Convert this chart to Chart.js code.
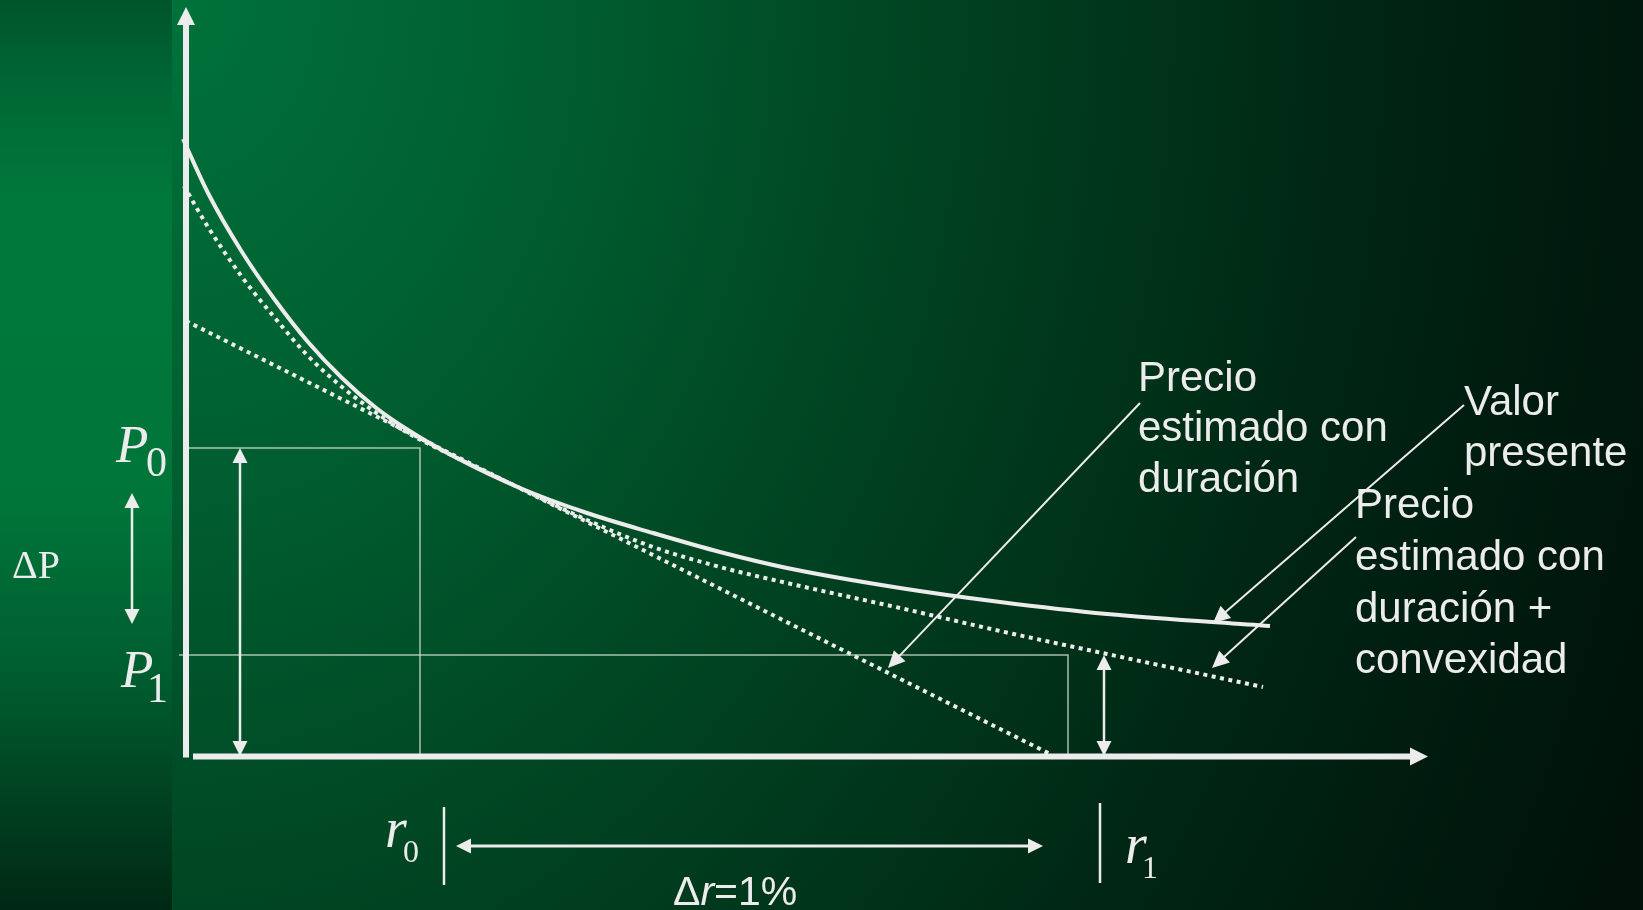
<!DOCTYPE html>
<html><head><meta charset="utf-8">
<script src="https://cdn.jsdelivr.net/npm/chart.js@4.4.1/dist/chart.umd.min.js"></script>
<style>html,body{margin:0;padding:0;background:#002a15;overflow:hidden}#wrap{width:1643px;height:910px}</style>
</head><body><div id="wrap"><canvas id="c" width="1643" height="910"></canvas></div>
<script>
// ---- data (chart units: rate on x, price on y) ----
const rateValorPresente  = [-0.03, 0.22, 0.56, 0.89, 1.22, 1.56, 1.89, 2.22, 2.67, 3.34, 4.01, 4.67, 5.34, 6.01, 7.14, 8.14, 9.21, 10.84];
const precioValorPresente = [6.17, 5.63, 5.04, 4.56, 4.14, 3.78, 3.49, 3.26, 3.00, 2.68, 2.43, 2.23, 2.04, 1.88, 1.68, 1.54, 1.42, 1.30];
const rateConvexidad  = [-0.02, 0.22, 0.56, 0.89, 1.22, 1.56, 1.89, 2.22, 2.67, 3.34, 4.01, 4.67, 5.34, 6.01, 7.14, 8.14, 9.21, 9.87, 10.77];
const precioConvexidad = [5.70, 5.29, 4.79, 4.38, 4.00, 3.69, 3.44, 3.23, 3.00, 2.68, 2.36, 2.09, 1.89, 1.73, 1.48, 1.25, 1.02, 0.88, 0.69];
const rateDuracion   = [0, 8.64];
const precioDuracion = [4.35, 0.02];
const P0 = 3.08, P1 = 1.01, r0 = 2.34, r1 = 8.82;
const xMax = 12.42, yMax = 7.49;

const labelPrecioDur  = ['Precio', 'estimado con', 'duración'];
const labelValor      = ['Valor', 'presente'];
const labelPrecioConv = ['Precio', 'estimado con', 'duración +', 'convexidad'];

const pts = (xs, ys) => xs.map((x, i) => ({x, y: ys[i]}));
const INK = '#ececec';
const GUIDE = 'rgba(210,222,212,0.8)';

function paintBackground(ctx, w, h) {
  ctx.save();
  ctx.translate(172, 0);
  ctx.scale(1, 1.25);
  const g = ctx.createRadialGradient(0, 0, 0, 0, 0, 1600);
  g.addColorStop(0, 'rgb(0,114,58)');
  g.addColorStop(0.25, 'rgb(0,93,47)');
  g.addColorStop(0.5, 'rgb(0,64,32)');
  g.addColorStop(0.75, 'rgb(0,37,19)');
  g.addColorStop(1, 'rgb(0,18,10)');
  ctx.fillStyle = g;
  ctx.fillRect(-172, 0, w + 10, h);
  ctx.restore();
  const s = ctx.createLinearGradient(0, 0, 0, h);
  s.addColorStop(0, 'rgb(0,84,42)');
  s.addColorStop(0.1, 'rgb(0,104,52)');
  s.addColorStop(0.22, 'rgb(0,120,60)');
  s.addColorStop(0.55, 'rgb(0,117,58)');
  s.addColorStop(0.75, 'rgb(0,92,46)');
  s.addColorStop(1, 'rgb(0,40,20)');
  ctx.fillStyle = s;
  ctx.fillRect(0, 0, 172, h);
}

function arrow(ctx, x1, y1, x2, y2, o) {
  const w = o.w || 2.5, len = o.len || 15, hw = o.hw || 7.5;
  const a = Math.atan2(y2 - y1, x2 - x1), c = Math.cos(a), s = Math.sin(a);
  let sx = x1, sy = y1, ex = x2, ey = y2;
  if (o.start) { sx += c * len * 0.8; sy += s * len * 0.8; }
  if (o.end) { ex -= c * len * 0.8; ey -= s * len * 0.8; }
  ctx.lineWidth = w; ctx.lineCap = 'butt';
  ctx.beginPath(); ctx.moveTo(sx, sy); ctx.lineTo(ex, ey); ctx.stroke();
  const head = (tx, ty, dc, ds) => {
    ctx.beginPath(); ctx.moveTo(tx, ty);
    ctx.lineTo(tx - dc * len - ds * hw, ty - ds * len + dc * hw);
    ctx.lineTo(tx - dc * len + ds * hw, ty - ds * len - dc * hw);
    ctx.closePath(); ctx.fill();
  };
  if (o.end) head(x2, y2, c, s);
  if (o.start) head(x1, y1, -c, -s);
}

const decor = {
  id: 'decor',
  beforeDraw(chart) { paintBackground(chart.ctx, chart.width, chart.height); },
  afterDatasetsDraw(chart) {
    const ctx = chart.ctx, ca = chart.chartArea;
    const X = v => chart.scales.x.getPixelForValue(v);
    const Y = v => chart.scales.y.getPixelForValue(v);
    ctx.save();
    ctx.strokeStyle = INK; ctx.fillStyle = INK;
    // axes
    const ox = X(0), oy = Y(0) + 0.5;
    ctx.lineWidth = 6;
    ctx.beginPath(); ctx.moveTo(ox, oy + 1); ctx.lineTo(ox, ca.top + 16); ctx.stroke();
    arrow(ctx, ox, ca.top + 30, ox, ca.top, {w: 0.1, len: 18, hw: 9, end: true});
    ctx.lineWidth = 6;
    ctx.beginPath(); ctx.moveTo(X(0.07), oy); ctx.lineTo(ca.right - 16, oy); ctx.stroke();
    arrow(ctx, ca.right - 30, oy, ca.right, oy, {w: 0.1, len: 18, hw: 9, end: true});
    // double arrows
    arrow(ctx, X(0.54), Y(P0), X(0.54), Y(0), {w: 2.5, len: 15, hw: 7.5, start: true, end: true});
    arrow(ctx, X(9.18), Y(P1), X(9.18), Y(0), {w: 2.5, len: 15, hw: 7.5, start: true, end: true});
    arrow(ctx, X(-0.54), Y(2.63), X(-0.54), Y(1.32), {w: 2.5, len: 15, hw: 7.5, start: true, end: true});
    arrow(ctx, X(2.70), Y(-0.90), X(8.57), Y(-0.90), {w: 3, len: 15, hw: 7.5, start: true, end: true});
    // r brackets
    ctx.lineWidth = 2.5;
    ctx.beginPath(); ctx.moveTo(X(2.58), Y(-0.51)); ctx.lineTo(X(2.58), Y(-1.29)); ctx.stroke();
    ctx.beginPath(); ctx.moveTo(X(9.14), Y(-0.47)); ctx.lineTo(X(9.14), Y(-1.27)); ctx.stroke();
    // callouts
    arrow(ctx, 1140, 403, 888, 668, {w: 2, len: 17, hw: 8, end: true});
    arrow(ctx, 1464, 405, 1213, 623, {w: 2, len: 17, hw: 8, end: true});
    arrow(ctx, 1356, 537, 1212, 668, {w: 2, len: 17, hw: 8, end: true});
    // sans labels
    ctx.textBaseline = 'alphabetic'; ctx.textAlign = 'left';
    ctx.font = '42px "Liberation Sans", Arial, sans-serif';
    [391, 441, 492].forEach((b, i) => ctx.fillText(labelPrecioDur[i], 1138, b));
    [415, 466].forEach((b, i) => ctx.fillText(labelValor[i], 1464, b));
    [518, 570, 622, 673].forEach((b, i) => ctx.fillText(labelPrecioConv[i], 1355, b));
    // serif labels
    ctx.font = 'italic 53px "Liberation Serif", serif';
    ctx.fillText('P', 116, 462);
    ctx.fillText('P', 121, 687);
    ctx.font = '42px "Liberation Serif", serif';
    ctx.fillText('0', 146, 476);
    ctx.fillText('1', 147, 702);
    ctx.font = '40px "Liberation Serif", serif';
    ctx.fillText('\u0394P', 12, 578);
    ctx.font = 'italic 56px "Liberation Serif", serif';
    ctx.fillText('r', 385, 847);
    ctx.fillText('r', 1125, 863);
    ctx.font = '32px "Liberation Serif", serif';
    ctx.fillText('0', 403, 862);
    ctx.fillText('1', 1142, 878);
    // delta r
    let x = 673;
    ctx.font = '41px "Liberation Sans", Arial, sans-serif';
    ctx.fillText('\u0394', x, 905); x += ctx.measureText('\u0394').width;
    ctx.font = 'italic 41px "Liberation Sans", Arial, sans-serif';
    ctx.fillText('r', x, 905); x += ctx.measureText('r').width;
    ctx.font = '41px "Liberation Sans", Arial, sans-serif';
    ctx.fillText('=1%', x, 905);
    ctx.restore();
  }
};

const dotted = {borderColor: INK, borderWidth: 4, borderDash: [4, 4.5], borderCapStyle: 'butt', pointRadius: 0, clip: false, showLine: true, fill: false};

new Chart(document.getElementById('c'), {
  type: 'scatter',
  data: {
    datasets: [
      {label: 'P0 guía', data: pts([0.03, r0, r0], [P0, P0, 0]), borderColor: GUIDE, borderWidth: 1.5, pointRadius: 0, showLine: true, clip: false, tension: 0},
      {label: 'P1 guía', data: pts([-0.07, r1, r1], [P1, P1, 0]), borderColor: GUIDE, borderWidth: 1.5, pointRadius: 0, showLine: true, clip: false, tension: 0},
      Object.assign({label: 'Precio estimado con duración', data: pts(rateDuracion, precioDuracion), tension: 0}, dotted),
      Object.assign({label: 'Precio estimado con duración + convexidad', data: pts(rateConvexidad, precioConvexidad), cubicInterpolationMode: 'monotone'}, dotted),
      {label: 'Valor presente', data: pts(rateValorPresente, precioValorPresente), borderColor: INK, borderWidth: 4, pointRadius: 0, showLine: true, clip: false, cubicInterpolationMode: 'monotone', borderCapStyle: 'butt'}
    ]
  },
  options: {
    responsive: false, animation: false, devicePixelRatio: 1,
    layout: {padding: {left: 186, right: 215, top: 7, bottom: 154}},
    scales: {
      x: {type: 'linear', min: 0, max: xMax, display: false},
      y: {type: 'linear', min: 0, max: yMax, display: false}
    },
    plugins: {legend: {display: false}, tooltip: {enabled: false}}
  },
  plugins: [decor]
});
</script></body></html>
